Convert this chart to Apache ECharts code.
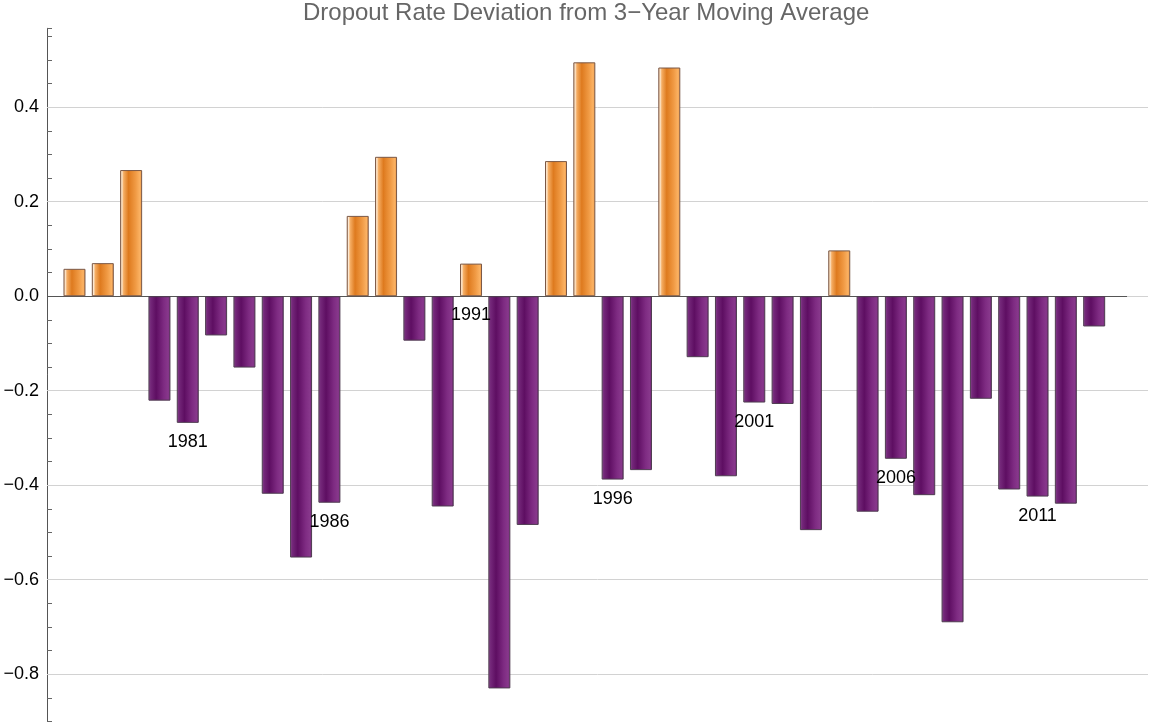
<!DOCTYPE html>
<html>
<head>
<meta charset="utf-8">
<title>Dropout Rate Deviation from 3-Year Moving Average</title>
<script src="https://cdn.jsdelivr.net/npm/echarts@6.0.0/dist/echarts.min.js"></script>
<style>
  html, body { margin: 0; padding: 0; background: #fff; }
  #main { width: 1152px; height: 727px; }
</style>
</head>
<body>
<div id="main"></div>
<script>
// years 1977 .. 2013
const years = [
  1977, 1978, 1979, 1980, 1981, 1982, 1983, 1984, 1985, 1986,
  1987, 1988, 1989, 1990, 1991, 1992, 1993, 1994, 1995, 1996,
  1997, 1998, 1999, 2000, 2001, 2002, 2003, 2004, 2005, 2006,
  2007, 2008, 2009, 2010, 2011, 2012, 2013
];
const deviation = [
  0.058, 0.070, 0.267, -0.221, -0.268, -0.083, -0.151, -0.418, -0.553, -0.437,
  0.170, 0.295, -0.094, -0.445, 0.069, -0.830, -0.484, 0.286, 0.495, -0.388,
  -0.368, 0.484, -0.129, -0.381, -0.225, -0.228, -0.495, 0.097, -0.456, -0.344,
  -0.421, -0.690, -0.217, -0.409, -0.424, -0.439, -0.064
];
const labelledYears = [1981, 1986, 1991, 1996, 2001, 2006, 2011];
const yTickLabels = [-0.8, -0.6, -0.4, -0.2, 0.0, 0.2, 0.4];

const FONT = "'Liberation Sans', Arial, sans-serif";
const X_MIN = 1976.03, X_MAX = 2014.9, X_AXIS_END = 2014.16;
const Y_MIN = -0.9, Y_MAX = 0.567;

const orange = {
  type: 'linear', x: 0, y: 0, x2: 1, y2: 0,
  colorStops: [
    { offset: 0, color: '#f4b77a' },
    { offset: 0.08, color: '#fde9d2' },
    { offset: 0.16, color: '#f5ad63' },
    { offset: 0.38, color: '#de7a1e' },
    { offset: 0.7, color: '#f09a44' },
    { offset: 0.9, color: '#fbb263' },
    { offset: 1, color: '#e38c3c' }
  ]
};
const purple = {
  type: 'linear', x: 0, y: 0, x2: 1, y2: 0,
  colorStops: [
    { offset: 0, color: '#8c5590' },
    { offset: 0.1, color: '#74287a' },
    { offset: 0.35, color: '#5e0e62' },
    { offset: 0.7, color: '#7e2b82' },
    { offset: 0.9, color: '#88388c' },
    { offset: 1, color: '#6c2070' }
  ]
};

const barData = years.map((y, i) => ({
  value: [y, deviation[i]],
  itemStyle: deviation[i] >= 0
    ? { color: orange, borderColor: '#7a5846', borderWidth: 1 }
    : { color: purple, borderColor: '#4e3c50', borderWidth: 1 }
}));

function fmtTick(v) {
  const hit = yTickLabels.find(t => Math.abs(t - v) < 1e-6);
  if (hit === undefined) return '';
  return (hit < 0 ? '\u2212' : '') + Math.abs(hit).toFixed(1);
}

const chart = echarts.init(document.getElementById('main'), null, { renderer: 'canvas' });

const option = {
  backgroundColor: '#ffffff',
  animation: false,
  title: {
    text: 'Dropout Rate Deviation from 3\u2212Year Moving Average',
    left: 303,
    top: 1,
    padding: 0,
    textStyle: { fontFamily: FONT, fontSize: 24, fontWeight: 'normal', color: '#666666' }
  },
  grid: {
    left: 47, top: 28.3, width: 1101, height: 693.2,
    containLabel: false,
    outerBoundsMode: 'none'
  },
  xAxis: {
    type: 'value',
    min: X_MIN, max: X_MAX,
    axisLine: { show: false },
    axisTick: { show: false },
    axisLabel: { show: false },
    splitLine: { show: false }
  },
  yAxis: {
    type: 'value',
    min: Y_MIN, max: Y_MAX,
    interval: 0.05,
    axisLine: { show: true, onZero: false, lineStyle: { color: '#555555', width: 1 } },
    axisTick: { show: true, inside: true, length: 5, lineStyle: { color: '#666666' } },
    axisLabel: {
      margin: 8,
      fontFamily: FONT, fontSize: 18, color: '#000000',
      showMinLabel: true, showMaxLabel: true,
      formatter: fmtTick
    },
    splitLine: { show: false }
  },
  series: [{
    type: 'bar',
    data: barData,
    barWidth: 22,
    z: 3,
    label: {
      show: true,
      position: 'bottom',
      distance: 10,
      fontFamily: FONT, fontSize: 18, lineHeight: 18, color: '#000000',
      formatter: p => labelledYears.indexOf(p.value[0]) >= 0 ? String(p.value[0]) : ''
    },
    markLine: {
      silent: true,
      symbol: 'none',
      z: 1,
      label: { show: false },
      lineStyle: { color: '#d2d2d2', width: 1, type: 'solid' },
      data: yTickLabels.map(v => ({ yAxis: v }))
        .concat([[
          { coord: [X_MIN, 0], lineStyle: { color: '#555555', width: 1, type: 'solid' } },
          { coord: [X_AXIS_END, 0] }
        ]])
    }
  }]
};

chart.setOption(option);
</script>
</body>
</html>
